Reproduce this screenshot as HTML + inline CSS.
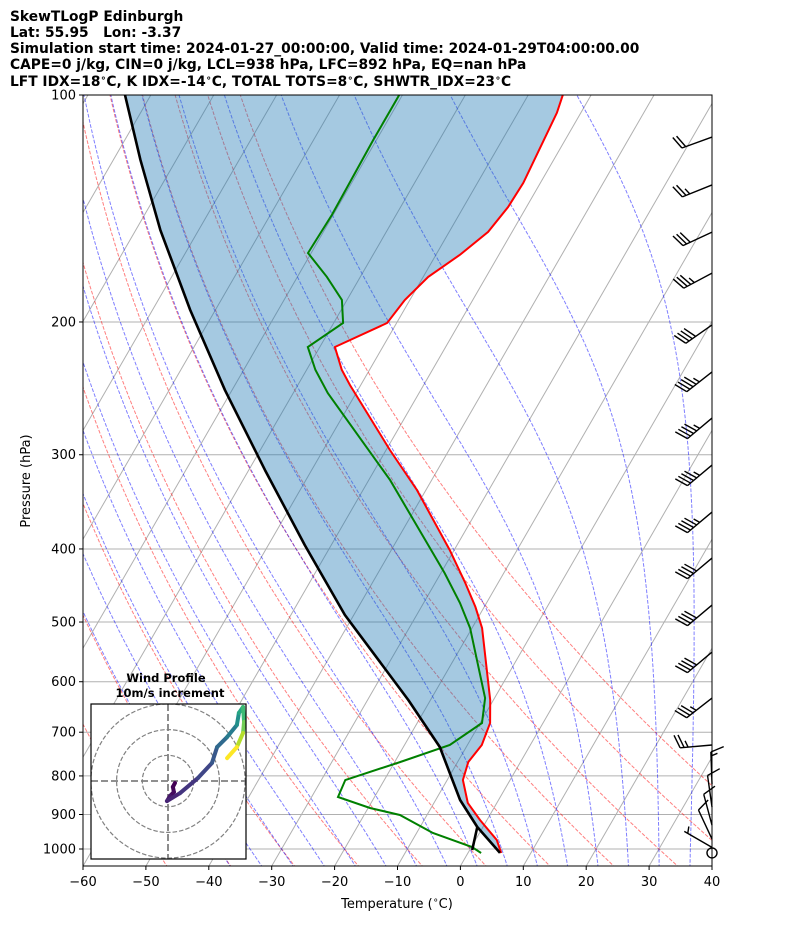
<!DOCTYPE html>
<html><head><meta charset="utf-8">
<style>
html,body{margin:0;padding:0;background:#fff;}
svg{display:block;font-family:"DejaVu Sans","Liberation Sans",sans-serif;}
</style></head>
<body>
<svg id="chart" width="794" height="937" viewBox="0 0 794 937" xmlns="http://www.w3.org/2000/svg">
<defs>
<clipPath id="plotclip"><rect x="83" y="95" width="629" height="771"/></clipPath>
<clipPath id="hodoclip"><rect x="91" y="704" width="155" height="155"/></clipPath>
</defs>
<g font-weight="bold" font-size="13.8" fill="#000">
<text x="10" y="21">SkewTLogP Edinburgh</text>
<text x="10" y="37" xml:space="preserve" style="white-space:pre">Lat: 55.95   Lon: -3.37</text>
<text x="10" y="53">Simulation start time: 2024-01-27_00:00:00, Valid time: 2024-01-29T04:00:00.00</text>
<text x="10" y="69">CAPE=0 j/kg, CIN=0 j/kg, LCL=938 hPa, LFC=892 hPa, EQ=nan hPa</text>
<text x="10" y="86">LFT IDX=18<tspan dy="-5" font-size="9.5">∘</tspan><tspan dy="5">C, K IDX=-14</tspan><tspan dy="-5" font-size="9.5">∘</tspan><tspan dy="5">C, TOTAL TOTS=8</tspan><tspan dy="-5" font-size="9.5">∘</tspan><tspan dy="5">C, SHWTR_IDX=23</tspan><tspan dy="-5" font-size="9.5">∘</tspan><tspan dy="5">C</tspan></text>
</g>
<g id="plot" clip-path="url(#plotclip)"></g>
<g id="axes"></g>
<g id="barbs"></g>
<g id="hodo"></g>
</svg>
<script>
// ---- data ----
const tempP = [1012.3,973.0,915.3,869.0,810.0,766.6,727.9,680.6,634.6,509.3,477.5,443.8,401.3,334.2,295.7,242.5,231.5,215.9,200.6,187.0,174.3,163.0,151.9,140.8,130.8,105.6,100];
const tempT = [5.3,3.4,-1.1,-4.6,-7.5,-8.3,-7.7,-8.4,-10.5,-18.4,-21.4,-25.2,-30.7,-41.4,-49.4,-61.7,-64.4,-67.6,-61.5,-60.8,-59.2,-56.2,-53.8,-52.9,-52.7,-53.8,-54.5];
const dewP = [1012.3,993.9,952.3,901.5,882.3,853.1,810.0,766.6,727.9,680.6,630.6,509.3,471.8,430.5,324.1,248.5,231.5,215.9,200.6,187.0,174.3,162.0,144.2,114.7,100];
const dewT = [2.1,0.1,-7.4,-14.3,-19.7,-25.8,-26.2,-19.1,-12.8,-9.7,-11.5,-20.3,-24.2,-29.4,-46.6,-64.5,-68.6,-71.9,-68.5,-70.8,-75.3,-80.5,-80.2,-80.5,-80.5];
const parcelP = [1012,935.0,861.0,732.3,634.6,489.4,395.3,314.4,246.3,192.8,151.0,121.9,100];
const parcelT = [5.1,-0.9,-6.1,-14.2,-23.5,-41.4,-54.2,-67.4,-81.1,-94.0,-106.1,-115.7,-124.1];
const parcelDewP = [1003,935.0];
const parcelDewT = [0.4,-0.9];
const pTicks = [100,200,300,400,500,600,700,800,900,1000];
const tTicks = [-60,-50,-40,-30,-20,-10,0,10,20,30,40];
const barbP = [113.7,131.6,152.0,172.3,201.8,233.0,268.2,309.6,357.4,411.3,474.8,548.0,630.6,727.9,820,880,930,970,995];
const barbSpd = [20,25,30,35,40,45,45,45,45,40,40,40,35,25,15,10,10,10,5];
const barbDir = [250,248,245,242,235,232,230,230,230,230,230,230,232,265,358,352,345,335,300];
const hodoU = [2.7,1.9,2.3,0.8,-0.4,4.7,11.7,17.1,19.1,23.0,26.8,27.6,29.2,29.6,29.2,26.8,23.0];
const hodoV = [-0.8,-2.3,-4.3,-5.8,-7.8,-4.7,1.2,7.0,13.2,17.1,21.8,26.5,28.8,23.0,18.7,13.2,8.9];

// ---- axes functions ----
const X0=83,X1=712,Y0=95,Y1=866,PXT=6.29,SK=0.5774;
function Y(p){return Y0+754*Math.log10(p/100);}
function X(T,p){return X0+(T+60)*PXT+(Y1-Y(p))*SK;}
const NS="http://www.w3.org/2000/svg";
function mk(tag,parent,attrs){const e=document.createElementNS(NS,tag);for(const k in attrs)e.setAttribute(k,attrs[k]);parent.appendChild(e);return e;}
const plot=document.getElementById('plot'), axes=document.getElementById('axes');
function ptsStr(ps,ts){return ps.map((p,i)=>X(ts[i],p).toFixed(1)+','+Y(p).toFixed(1)).join(' ');}

pTicks.forEach(p=>{
  const l=mk('line',plot,{x1:X0,x2:X1,y1:Y(p),y2:Y(p),stroke:'#b0b0b0','stroke-width':1});
  
  
});
for(let T=-180;T<=40;T+=10){
  const l=mk('line',plot,{x1:X(T,1053),y1:Y1,x2:X(T,1053)+(Y1-Y0)*SK,y2:Y0,stroke:'#b0b0b0','stroke-width':1});
  
  
}
const ps=[];for(let p=1060;p>=98;p-=4)ps.push(p);
for(let T0=-50;T0<=50;T0+=10){
  const th=T0+273.15;
  const d=ps.map(p=>X(th*Math.pow(p/1000,0.2857)-273.15,p).toFixed(1)+','+Y(p).toFixed(1)).join(' ');
  const l=mk('polyline',plot,{points:d,fill:'none',stroke:'#ff0000','stroke-opacity':0.5,'stroke-width':1,'stroke-dasharray':'3.7,1.6'});
  
  
}
function dTdp(T,p){const Tc=T-273.15;const es=6.112*Math.exp(17.67*Tc/(Tc+243.5));const rs=0.622*es/(p-es);
  return (287.04*T+2.501e6*rs)/(p*(1005.7+2.501e6*2.501e6*rs*0.622/(287.04*T*T)));}
function moist(T0){
  const up=[],dn=[];let T=T0+273.15,p=1000;const h=2;
  while(p>98){up.push([p,T]);const k1=dTdp(T,p),k2=dTdp(T-h/2*k1,p-h/2),k3=dTdp(T-h/2*k2,p-h/2),k4=dTdp(T-h*k3,p-h);T-=h/6*(k1+2*k2+2*k3+k4);p-=h;}
  T=T0+273.15;p=1000;
  while(p<1062){dn.push([p,T]);const k1=dTdp(T,p);T+=h*k1;p+=h;}
  return dn.reverse().concat(up);
}
for(let T0=-40;T0<=45;T0+=5){
  const d=moist(T0).map(a=>X(a[1]-273.15,a[0]).toFixed(1)+','+Y(a[0]).toFixed(1)).join(' ');
  const l=mk('polyline',plot,{points:d,fill:'none',stroke:'#0000ff','stroke-opacity':0.5,'stroke-width':1,'stroke-dasharray':'3.7,1.6'});
  
  
}
const polyPts=ptsStr(tempP,tempT)+' '+ptsStr(parcelP.slice().reverse(),parcelT.slice().reverse());
const fillEl=mk('polygon',plot,{points:polyPts,fill:'#1f77b4','fill-opacity':0.4,stroke:'none'});


const tl=mk('polyline',plot,{points:ptsStr(tempP,tempT),fill:'none',stroke:'#ff0000','stroke-width':2});


const dl=mk('polyline',plot,{points:ptsStr(dewP,dewT),fill:'none',stroke:'#008000','stroke-width':2});


const pl=mk('polyline',plot,{points:ptsStr(parcelP,parcelT),fill:'none',stroke:'#000','stroke-width':2.6,'stroke-linejoin':'round'});


const pdl=mk('polyline',plot,{points:ptsStr(parcelDewP,parcelDewT),fill:'none',stroke:'#000','stroke-width':2.6});



const fr=mk('rect',axes,{x:X0,y:Y0,width:X1-X0,height:Y1-Y0,fill:'none',stroke:'#000','stroke-width':1});


pTicks.forEach(p=>{
  const t=mk('line',axes,{x1:X0-4,x2:X0,y1:Y(p),y2:Y(p),stroke:'#000'});
  
  
  const tx=mk('text',axes,{x:X0-7,y:Y(p)+4.5,'text-anchor':'end','font-size':13});
  tx.textContent=p;
  
  
});
tTicks.forEach(T=>{
  const x=X0+(T+60)*PXT;
  const t=mk('line',axes,{x1:x,x2:x,y1:Y1,y2:Y1+4,stroke:'#000'});
  
  
  const tx=mk('text',axes,{x:x,y:Y1+20,'text-anchor':'middle','font-size':13});
  tx.textContent=(T<0?'\u2212'+(-T):T);
  
  
});
const xl=mk('text',axes,{x:397,y:908,'text-anchor':'middle','font-size':13});
xl.innerHTML='Temperature (<tspan dy="-5" font-size="9.5">∘</tspan><tspan dy="5">C)</tspan>';


const yl=mk('text',axes,{x:30,y:481,'text-anchor':'middle','font-size':13,transform:'rotate(-90 30 481)'});
yl.textContent='Pressure (hPa)';



const bg=document.getElementById('barbs');
barbP.forEach((p,i)=>{
  const bx=X1,by=Y(p),d=barbDir[i]*Math.PI/180,L=32;
  const ux=Math.sin(d),uy=-Math.cos(d);
  const nx=-uy,ny=ux;
  const g=mk('g',bg,{stroke:'#000','stroke-width':1.4,fill:'none'});
  
  
  mk('line',g,{x1:bx,y1:by,x2:bx+L*ux,y2:by+L*uy});
  let s=barbSpd[i],pos=L;
  const full=Math.floor(s/10),half=(s%10)>=5?1:0;
  for(let k=0;k<full;k++){
    const sx=bx+pos*ux,sy=by+pos*uy;
    mk('line',g,{x1:sx,y1:sy,x2:sx+13*nx+5*ux,y2:sy+13*ny+5*uy});
    pos-=4;
  }
  if(half){
    if(full===0)pos-=4;
    const sx=bx+pos*ux,sy=by+pos*uy;
    mk('line',g,{x1:sx,y1:sy,x2:sx+6.5*nx+2.5*ux,y2:sy+6.5*ny+2.5*uy});
  }
});
const calm=mk('circle',bg,{cx:X1,cy:Y(1012),r:5,fill:'none',stroke:'#000','stroke-width':1.4});



const hg=document.getElementById('hodo');
const HX=168,HY=781,HS=2.57;
const hbg=mk('rect',hg,{x:91,y:704,width:155,height:155,fill:'#fff',stroke:'none'});


const hc=mk('g',hg,{'clip-path':'url(#hodoclip)'});
[10,20,30].forEach(r=>{
  const c=mk('circle',hc,{cx:HX,cy:HY,r:r*HS,fill:'none',stroke:'#808080','stroke-width':1.2,'stroke-dasharray':'4.5,2'});
  
  
});
const ha1=mk('line',hc,{x1:91,x2:246,y1:HY,y2:HY,stroke:'#808080','stroke-width':1.8,'stroke-dasharray':'7,3'});


const ha2=mk('line',hc,{x1:HX,x2:HX,y1:704,y2:859,stroke:'#808080','stroke-width':1.8,'stroke-dasharray':'7,3'});


const vir=[[68,1,84],[72,40,120],[62,74,137],[49,104,142],[38,130,142],[31,158,137],[53,183,121],[109,205,89],[180,222,44],[253,231,37]];
function vcol(t){const f=t*(vir.length-1),i=Math.min(Math.floor(f),vir.length-2),r=f-i;const a=vir[i],b=vir[i+1];
  return 'rgb('+a.map((v,k)=>Math.round(v+(b[k]-v)*r)).join(',')+')';}
for(let i=0;i<hodoU.length-1;i++){
  const s=mk('line',hc,{x1:HX+hodoU[i]*HS,y1:HY-hodoV[i]*HS,x2:HX+hodoU[i+1]*HS,y2:HY-hodoV[i+1]*HS,stroke:vcol(Math.pow(i/(hodoU.length-2),1.7)),'stroke-width':4,'stroke-linecap':'round'});
  
  
}
const hf=mk('rect',hg,{x:91,y:704,width:155,height:155,fill:'none',stroke:'#000','stroke-width':1.2});


const ht1=mk('text',hg,{x:166,y:682,'text-anchor':'middle','font-size':11.5,'font-weight':'bold'});
ht1.textContent='Wind Profile';


const ht2=mk('text',hg,{x:170,y:697,'text-anchor':'middle','font-size':11.5,'font-weight':'bold'});
ht2.textContent='10m/s increment';


</script>
</body></html>
